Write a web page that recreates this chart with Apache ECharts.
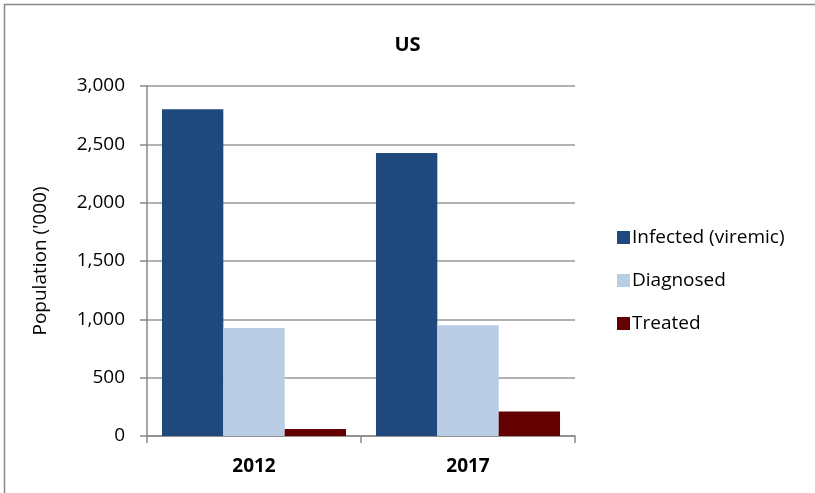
<!DOCTYPE html>
<html>
<head>
<meta charset="utf-8">
<script src="https://cdn.jsdelivr.net/npm/echarts@6/dist/echarts.min.js"></script>
<style>
  html, body { margin: 0; padding: 0; background: #fff; }
  #chart { width: 815px; height: 493px; }
</style>
</head>
<body>
<div id="chart"></div>
<script>
var years = ["2012", "2017"];
var seriesNames = ["Infected (viremic)", "Diagnosed", "Treated"];
var infected = [2800, 2425];
var diagnosed = [925, 950];
var treated = [60, 210];
var yTicks = [0, 500, 1000, 1500, 2000, 2500, 3000];

(function () {
  var myechart = echarts.init(document.getElementById("chart"));
  var fontFamily = "'Open Sans', 'Noto Sans', sans-serif";
  var colors = ["#1f497d", "#b9cde5", "#630000"];
  var seriesData = [infected, diagnosed, treated];

  var option = {
    animation: false,
    color: colors,
    textStyle: { fontFamily: fontFamily },
    title: {
      text: "US",
      left: "center",
      top: 30,
      textStyle: { fontSize: 20, fontWeight: "bold", color: "#000", fontFamily: fontFamily },
    },
    graphic: [
      {
        type: "rect",
        shape: { x: 4.5, y: 4.5, width: 830, height: 510 },
        style: { fill: "none", stroke: "#888", lineWidth: 1.5 },
        silent: true,
      },
    ],
    legend: {
      orient: "vertical",
      left: 612,
      top: 223,
      itemWidth: 13,
      itemHeight: 13,
      itemGap: 24,
      icon: "rect",
      textStyle: { fontSize: 19, color: "#000", padding: [0, 0, 0, -3] },
      data: seriesNames,
    },
    grid: {
      left: 147,
      right: 240,
      top: 86,
      bottom: 57,
    },
    xAxis: {
      type: "category",
      data: years,
      axisLine: { lineStyle: { color: "#888", width: 1.5 } },
      axisTick: { show: true, length: 7, lineStyle: { color: "#888", width: 1.5 } },
      axisLabel: { fontSize: 19, fontWeight: "bold", color: "#000", margin: 21 },
    },
    yAxis: {
      type: "value",
      min: yTicks[0],
      max: yTicks[yTicks.length - 1],
      interval: yTicks[1] - yTicks[0],
      name: "Population ('000)",
      nameLocation: "middle",
      nameGap: 97,
      nameTextStyle: { fontSize: 19, color: "#000" },
      axisLine: { show: true, lineStyle: { color: "#888", width: 1.5 } },
      axisTick: { show: true, length: 7, lineStyle: { color: "#888", width: 1.5 } },
      axisLabel: {
        fontSize: 19,
        color: "#000",
        margin: 22,
        formatter: function (v) { return v.toLocaleString("en-US"); },
      },
      splitLine: { lineStyle: { color: "#999", width: 1.5 } },
    },
    series: seriesNames.map(function (name, i) {
      return {
        name: name,
        type: "bar",
        barGap: "0%",
        barCategoryGap: "14%",
        data: seriesData[i],
        itemStyle: { color: colors[i] },
      };
    }),
  };

  myechart.setOption(option);
})();
</script>
</body>
</html>
